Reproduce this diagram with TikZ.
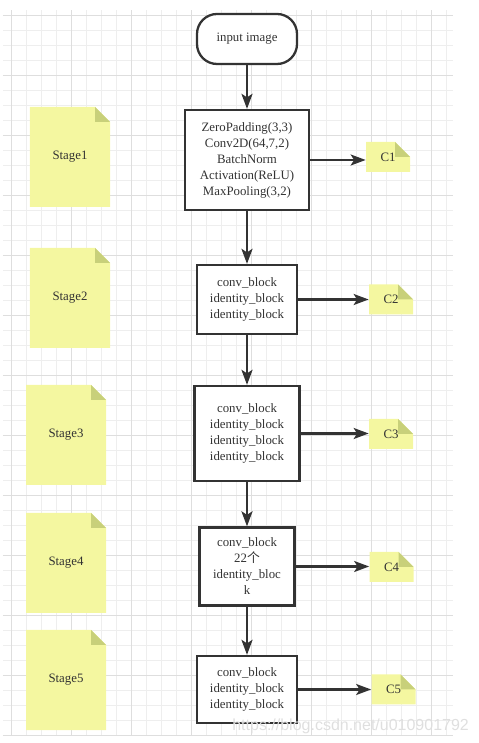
\documentclass[tikz,border=0pt]{standalone}
\usepackage{fontspec}
\setmainfont{Liberation Serif}
\newfontfamily\cjk{Noto Sans CJK SC}
\newfontfamily\wmfont{Liberation Sans}
\usetikzlibrary{arrows.meta}
\definecolor{inkgray}{HTML}{333333}
\definecolor{notefill}{RGB}{244,247,160}
\definecolor{notefold}{RGB}{200,208,122}
\definecolor{gridminor}{RGB}{238,238,238}
\definecolor{gridmajor}{RGB}{222,222,222}
\tikzset{
	flowbox/.style={draw=inkgray, line width=1.3pt, fill=white, text=inkgray, align=center, inner sep=0pt, font=\fontsize{7.3}{9.1}\selectfont},
	startbox/.style={flowbox, rounded corners=0.4cm},
	note/.style={inner sep=0pt, text=inkgray, font=\fontsize{7.3}{9.1}\selectfont,
		path picture={
			\fill[notefill] (path picture bounding box.south west) -- (path picture bounding box.south east) -- ([yshift=-0.3cm]path picture bounding box.north east) -- ([xshift=-0.3cm]path picture bounding box.north east) -- (path picture bounding box.north west) -- cycle;
			\fill[notefold] ([xshift=-0.3cm]path picture bounding box.north east) -- ([shift={(-0.3cm,-0.3cm)}]path picture bounding box.north east) -- ([yshift=-0.3cm]path picture bounding box.north east) -- cycle;
		}},
	stagenote/.style={note, minimum width=1.6cm, minimum height=2.0cm},
	outnote/.style={note, minimum width=0.88cm, minimum height=0.6cm},
	flowarrow/.style={draw=inkgray, line width=1.3pt, -{Stealth[length=3mm,width=2.2mm,inset=0.7mm]}}
}

\begin{document}
\begin{tikzpicture}
			%%%%% START %%%%%
			\useasboundingbox (0, 0) rectangle (9.58, 14.86);
			
			% grid
			\foreach \k in {0,...,29} {\draw[gridminor, line width=0.4pt] ({0.22+0.3*\k}, 0.16) -- ({0.22+0.3*\k}, 14.66);}
			\foreach \k in {0,...,48} {\draw[gridminor, line width=0.4pt] (0.06, {14.56-0.3*\k}) -- (9.06, {14.56-0.3*\k});}
			\foreach \k in {0,4,...,28} {\draw[gridmajor, line width=0.4pt] ({0.22+0.3*\k}, 0.16) -- ({0.22+0.3*\k}, 14.66);}
			\foreach \k in {0,4,...,48} {\draw[gridmajor, line width=0.4pt] (0.06, {14.56-0.3*\k}) -- (9.06, {14.56-0.3*\k});}
			
			% stages
			\node[stagenote] (stage1) at (1.40, 11.72) {Stage1};
			\node[stagenote] (stage2) at (1.40, 8.90) {Stage2};
			\node[stagenote] (stage3) at (1.32, 6.16) {Stage3};
			\node[stagenote] (stage4) at (1.32, 3.60) {Stage4};
			\node[stagenote] (stage5) at (1.32, 1.26) {Stage5};
			
			% main column
			\node[startbox, minimum width=2.0cm, minimum height=1.0cm] (input) at (4.94, 14.08) {input image};
			\node[flowbox, minimum width=2.48cm, minimum height=2.0cm] (box1) at (4.94, 11.66) {ZeroPadding(3,3)\\Conv2D(64,7,2)\\BatchNorm\\Activation(ReLU)\\MaxPooling(3,2)};
			\node[flowbox, minimum width=2.0cm, minimum height=1.38cm] (box2) at (4.94, 8.87) {conv\_block\\identity\_block\\identity\_block};
			\node[flowbox, minimum width=2.1cm, minimum height=1.9cm] (box3) at (4.94, 6.19) {conv\_block\\identity\_block\\identity\_block\\identity\_block};
			\node[flowbox, minimum width=1.9cm, minimum height=1.56cm] (box4) at (4.94, 3.53) {conv\_block\\22{\cjk 个}\\identity\_bloc\\k};
			\node[flowbox, minimum width=2.0cm, minimum height=1.34cm] (box5) at (4.94, 1.07) {conv\_block\\identity\_block\\identity\_block};
			
			% outputs
			\node[outnote] (c1) at (7.76, 11.72) {C1};
			\node[outnote] (c2) at (7.82, 8.87) {C2};
			\node[outnote] (c3) at (7.82, 6.18) {C3};
			\node[outnote] (c4) at (7.83, 3.52) {C4};
			\node[outnote] (c5) at (7.87, 1.07) {C5};
			
			\draw[flowarrow] (input) -- (box1);
			\draw[flowarrow] (box1) -- (box2);
			\draw[flowarrow] (box2) -- (box3);
			\draw[flowarrow] (box3) -- (box4);
			\draw[flowarrow] (box4) -- (box5);
			
			\draw[flowarrow] (box1.east) -- (box1.east -| c1.west);
			\draw[flowarrow] (box2.east) -- (box2.east -| c2.west);
			\draw[flowarrow] (box3.east) -- (box3.east -| c3.west);
			\draw[flowarrow] (box4.east) -- (box4.east -| c4.west);
			\draw[flowarrow] (box5.east) -- (box5.east -| c5.west);
			
			\node[anchor=base west, inner sep=0pt, text=gray!25, font=\wmfont\fontsize{9.1}{10}\selectfont] (watermark) at (4.64, 0.26) {https://blog.csdn.net/u010901792};
			%%%%% END %%%%%
\end{tikzpicture}
\end{document}
